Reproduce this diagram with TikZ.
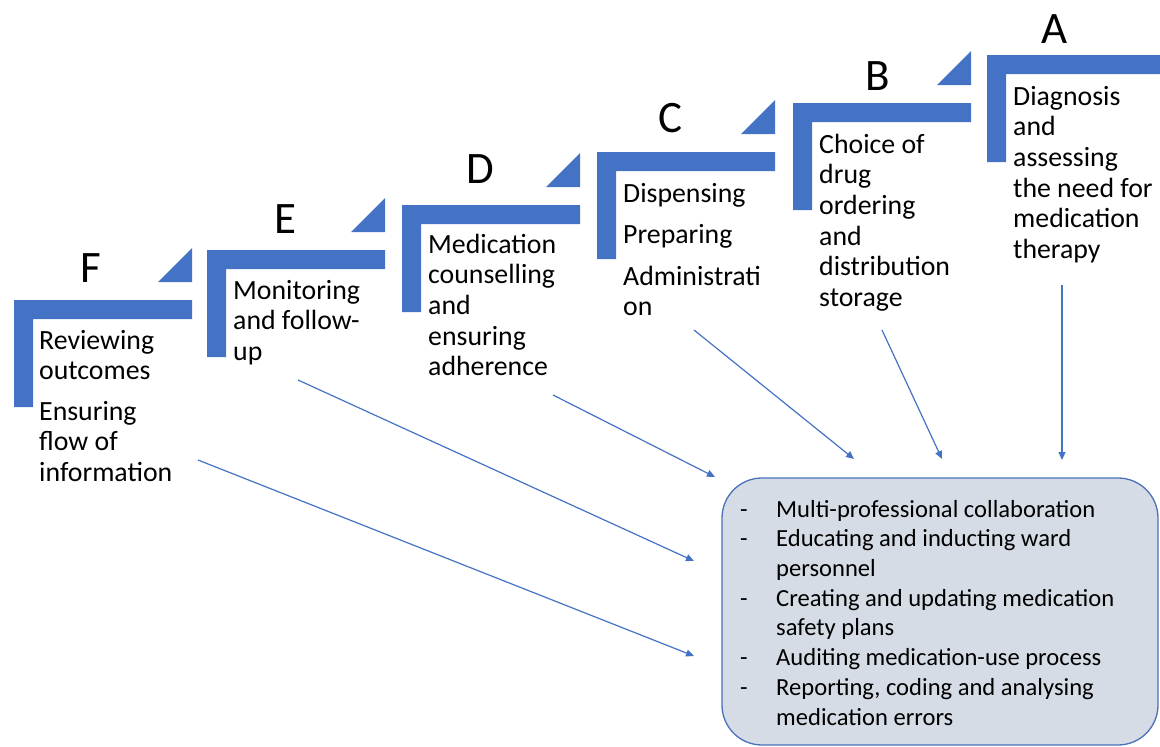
\documentclass[tikz,border=0pt]{standalone}
\usepackage{fontspec}
\setmainfont{Carlito}
\usetikzlibrary{arrows.meta,calc}
\definecolor{stepblue}{HTML}{4472C4}
\definecolor{boxfill}{HTML}{D6DCE5}
\definecolor{boxline}{HTML}{4A72B8}
\tikzset{
  stepbar/.style={fill=stepblue, draw=none},
  steptext/.style={anchor=north west, inner sep=0pt, align=left, font=\fontsize{27.8}{30.6}\selectfont},
  steplabel/.style={anchor=base, inner sep=0pt, font=\fontsize{45}{50}\selectfont},
  boxtext/.style={anchor=north west, inner sep=0pt, align=left, font=\fontsize{24.6}{29.7}\selectfont},
  conn/.style={draw=stepblue, line width=1.2pt, -{Triangle[length=8pt,width=7pt]}},
  outcome/.style={draw=boxline, line width=1.3pt, fill=boxfill, rounded corners=40pt, minimum width=436pt, minimum height=267pt, inner sep=0pt}
}
\begin{document}
\begin{tikzpicture}[x=1pt,y=-1pt]
\useasboundingbox (0,0) rectangle (1160,747);
% L-shaped steps
\foreach \xl/\yt in {14/300, 207/250, 402/205, 597/152, 793/103, 987/55}{
  \fill[stepblue] (\xl,\yt) -- (\xl+178,\yt) -- (\xl+178,\yt+19) -- (\xl+19,\yt+19)
     -- (\xl+19,\yt+107) -- (\xl,\yt+107) -- cycle;
}
% corner triangles
\foreach \xl/\yt in {14/300, 207/250, 402/205, 597/152, 793/103}{
  \fill[stepblue] (\xl+178,\yt-52) -- (\xl+178,\yt-18) -- (\xl+144,\yt-18) -- cycle;
}
% letters
\node[steplabel] (lF) at (91,282) {F};
\node[steplabel] (lE) at (285,233) {E};
\node[steplabel] (lD) at (480,183) {D};
\node[steplabel] (lC) at (670,132) {C};
\node[steplabel] (lB) at (878,90) {B};
\node[steplabel] (lA) at (1055,43) {A};
% step texts (top = first baseline - 21.4)
\node[steptext] (tF1) at (39,327.6) {\strut Reviewing\\outcomes};
\node[steptext] (tF2) at (39,398.6) {\strut Ensuring\\flow of\\information};
\node[steptext] (tE) at (233,277.6) {\strut Monitoring\\and follow-\\up};
\node[steptext] (tD) at (428,231.6) {\strut Medication\\counselling\\and\\ensuring\\adherence};
\node[steptext] (tC1) at (623,180.6) {\strut Dispensing};
\node[steptext] (tC2) at (623,221.6) {\strut Preparing};
\node[steptext] (tC3) at (623,263.6) {\strut Administrati\\on};
\node[steptext] (tB) at (819,131.6) {\strut Choice of\\drug\\ordering\\and\\distribution\\storage};
\node[steptext] (tA) at (1013,83.6) {\strut Diagnosis\\and\\assessing\\the need for\\medication\\therapy};
% outcome box
\node[outcome] (box) at (940,611.5) {};
\node[boxtext] (bt) at (740,496.2) {\strut\makebox[36pt][l]{-}Multi-professional collaboration\\
\makebox[36pt][l]{-}Educating and inducting ward\\
\hspace*{36pt}personnel\\
\makebox[36pt][l]{-}Creating and updating medication\\
\hspace*{36pt}safety plans\\
\makebox[36pt][l]{-}Auditing medication-use process\\
\makebox[36pt][l]{-}Reporting, coding and analysing\\
\hspace*{36pt}medication errors};
% connector ends
\coordinate (sA) at (1062,285); \coordinate (eA) at (1062,460);
\coordinate (sB) at (882,330);  \coordinate (eB) at (942,459);
\coordinate (sC) at (694,330);  \coordinate (eC) at (854,459);
\coordinate (sD) at (553,395);  \coordinate (eD) at (715,477);
\coordinate (sE) at (298,380);  \coordinate (eE) at (694,561);
\coordinate (sF) at (198,460);  \coordinate (eF) at (694,656);
\foreach \k in {A,B,C,D,E,F}{ \draw[conn] (s\k) -- (e\k); }
\end{tikzpicture}
\end{document}
